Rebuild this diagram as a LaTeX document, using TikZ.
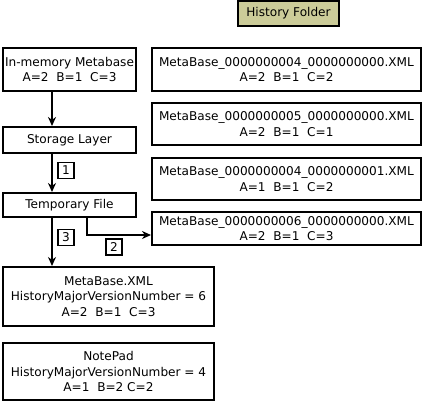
\documentclass[tikz,border=0pt]{standalone}
\usepackage{fontspec}
\setmainfont{DejaVu Sans}
\usetikzlibrary{arrows.meta}
\definecolor{histfill}{RGB}{204,204,153}
\begin{document}
\begin{tikzpicture}[x=1pt,y=-1pt,
    box/.style={draw,line width=2pt,inner sep=0pt,align=center,
      font=\fontsize{12.1}{15.5}\selectfont},
    tag/.style={draw,line width=1.6pt,inner sep=0pt,minimum width=16pt,minimum height=16pt,
      font=\fontsize{12.1}{13}\selectfont},
    flow/.style={line width=2pt,-{Stealth[length=9pt,width=8pt]}}]
  \useasboundingbox (0,0) rectangle (428,402);
  % history folder header
  \node[box,fill=histfill,minimum width=101pt,minimum height=25pt] (hist) at (288.5,13.5) {History Folder};
  % left column
  \node[box,minimum width=133pt,minimum height=43pt] (mem) at (69.5,69.5) {In-memory Metabase\\A=2\ \ B=1\ \ C=3};
  \node[box,minimum width=133pt,minimum height=26pt] (store) at (69.5,140) {Storage Layer};
  \node[box,minimum width=133pt,minimum height=24pt] (temp) at (69.5,205) {Temporary File};
  \node[box,minimum width=211pt,minimum height=59pt] (mbxml) at (108.5,296.5) {MetaBase.XML\\HistoryMajorVersionNumber = 6\\A=2\ \ B=1\ \ C=3};
  \node[box,minimum width=211pt,minimum height=57pt] (note) at (108.5,371.5) {NotePad\\HistoryMajorVersionNumber = 4\\A=1\ \ B=2 C=2};
  % history files
  \node[box,minimum width=269pt,minimum height=43pt] (h1) at (286.5,69.5) {MetaBase\_0000000004\_0000000000.XML\\A=2\ \ B=1\ \ C=2};
  \node[box,minimum width=269pt,minimum height=42pt] (h2) at (286.5,124) {MetaBase\_0000000005\_0000000000.XML\\A=2\ \ B=1\ \ C=1};
  \node[box,minimum width=269pt,minimum height=42pt] (h3) at (286.5,179) {MetaBase\_0000000004\_0000000001.XML\\A=1\ \ B=1\ \ C=2};
  \node[box,minimum width=269pt,minimum height=33pt] (h4) at (286.5,228.5) {MetaBase\_0000000006\_0000000000.XML\\A=2\ \ B=1\ \ C=3};
  % steps
  \draw[flow] ([xshift=-17.5pt]mem.south) -- ([xshift=-17.5pt]store.north);
  \draw[flow] ([xshift=-17.5pt]store.south) -- ([xshift=-17.5pt]temp.north);
  \draw[flow] ([xshift=-17.5pt]temp.south) -- ([xshift=-17.5pt]temp.south |- mbxml.north);
  \draw[flow] ([xshift=17.5pt]temp.south) |- ([yshift=-6.5pt]h4.west);
  \node[tag] (s1) at (66,170.5) {1};
  \node[tag] (s2) at (114,247) {2};
  \node[tag] (s3) at (66,237.5) {3};
\end{tikzpicture}
\end{document}
